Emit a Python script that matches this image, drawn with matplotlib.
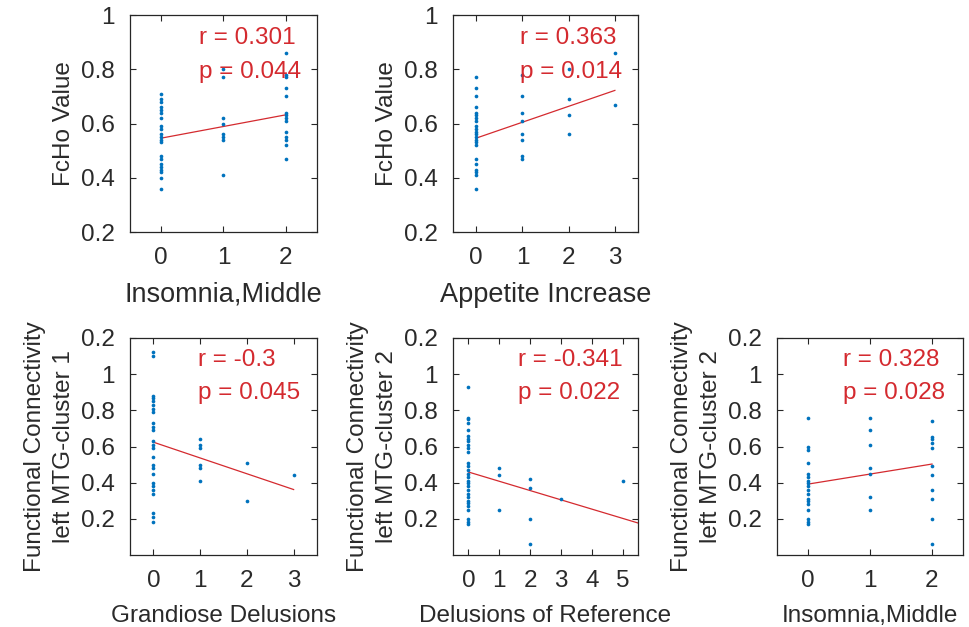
import matplotlib
matplotlib.use("Agg")
import matplotlib.pyplot as plt

plt.rcParams["font.family"] = ["Liberation Sans", "DejaVu Sans"]

# ----------------------------------------------------------
# Data
# ----------------------------------------------------------
# top-left: FcHo vs Insomnia,Middle
p1_x0 = [0.71, 0.69, 0.68, 0.66, 0.65, 0.64, 0.62, 0.59, 0.58, 0.56, 0.55,
         0.54, 0.53, 0.48, 0.47, 0.45, 0.44, 0.43, 0.42, 0.40, 0.36]
p1_x1 = [0.80, 0.77, 0.62, 0.60, 0.56, 0.55, 0.54, 0.41]
p1_x2 = [0.86, 0.78, 0.77, 0.73, 0.70, 0.64, 0.63, 0.62, 0.61, 0.57, 0.55,
         0.54, 0.52, 0.47]

# top-middle: FcHo vs Appetite Increase
p2_x0 = [0.77, 0.73, 0.70, 0.66, 0.64, 0.63, 0.62, 0.61, 0.59, 0.58, 0.57,
         0.56, 0.55, 0.54, 0.53, 0.52, 0.47, 0.45, 0.43, 0.42, 0.41, 0.36]
p2_x1 = [0.78, 0.70, 0.64, 0.61, 0.56, 0.54, 0.48, 0.47]
p2_x2 = [0.80, 0.69, 0.63, 0.56]
p2_x3 = [0.86, 0.67]

# bottom-left: cluster 1 vs Grandiose Delusions
p3_x0 = [1.12, 1.10, 0.88, 0.87, 0.85, 0.83, 0.81, 0.79, 0.73, 0.71, 0.69,
         0.63, 0.61, 0.59, 0.54, 0.50, 0.48, 0.45, 0.40, 0.38, 0.36, 0.34,
         0.23, 0.21, 0.18]
p3_x1 = [0.64, 0.61, 0.59, 0.50, 0.48, 0.41]
p3_x2 = [0.51, 0.30]
p3_x3 = [0.44]

# bottom-middle: cluster 2 vs Delusions of Reference
p4_x0 = [0.93, 0.76, 0.75, 0.73, 0.69, 0.66, 0.64, 0.63, 0.61, 0.59, 0.57,
         0.51, 0.49, 0.47, 0.45, 0.43, 0.41, 0.40, 0.38, 0.36, 0.34, 0.32,
         0.30, 0.29, 0.27, 0.25, 0.20, 0.18, 0.17]
p4_x1 = [0.48, 0.44, 0.25]
p4_x2 = [0.42, 0.37, 0.20, 0.06]
p4_x3 = [0.31]
p4_x5 = [0.41]

# bottom-right: cluster 2 vs Insomnia,Middle
p5_x0 = [0.76, 0.60, 0.58, 0.51, 0.45, 0.43, 0.41, 0.40, 0.38, 0.36, 0.34,
         0.31, 0.30, 0.28, 0.25, 0.20, 0.18, 0.17]
p5_x1 = [0.76, 0.69, 0.61, 0.48, 0.45, 0.32, 0.25]
p5_x2 = [0.74, 0.65, 0.64, 0.62, 0.59, 0.49, 0.44, 0.36, 0.31, 0.20, 0.06]

# least-squares line end points
fit1_x, fit1_y = [0, 2], [0.546, 0.632]
fit2_x, fit2_y = [0, 3], [0.546, 0.722]
fit3_x, fit3_y = [0, 3], [0.624, 0.362]
fit4_x, fit4_y = [0, 5.5], [0.459, 0.177]
fit5_x, fit5_y = [0, 2], [0.392, 0.503]

stats = [("r = 0.301", "p = 0.044"),
         ("r = 0.363", "p = 0.014"),
         ("r = -0.3", "p = 0.045"),
         ("r = -0.341", "p = 0.022"),
         ("r = 0.328", "p = 0.028")]

xlabels = ["Insomnia,Middle", "Appetite Increase", "Grandiose Delusions",
           "Delusions of Reference", "Insomnia,Middle"]
ylabels = ["FcHo Value", "FcHo Value",
           "Functional Connectivity\nleft MTG-cluster 1",
           "Functional Connectivity\nleft MTG-cluster 2",
           "Functional Connectivity\nleft MTG-cluster 2"]

top_yticks = [0.2, 0.4, 0.6, 0.8, 1.0]
top_yticklabels = ["0.2", "0.4", "0.6", "0.8", "1"]
bot_yticks = [0.2, 0.4, 0.6, 0.8, 1.0, 1.2]
bot_yticklabels = ["0.2", "0.4", "0.6", "0.8", "1", "0.2"]

DOT = "#0072BD"
RED = "#D42A2F"
FS = 17.5
TXT = "#2a2a2a"

W, H = 969, 627
fig = plt.figure(figsize=(W / 100, H / 100), dpi=100)


def make_ax(x0, x1, y0, y1):
    # pixel box -> figure fraction
    return fig.add_axes([x0 / W, 1 - y1 / H, (x1 - x0) / W, (y1 - y0) / H])


axes = [
    make_ax(130, 317, 15, 232),
    make_ax(453, 638, 15, 232),
    make_ax(130, 317, 338, 555),
    make_ax(453, 638, 338, 555),
    make_ax(777, 963, 338, 555),
]

columns = [
    [p1_x0, p1_x1, p1_x2],
    [p2_x0, p2_x1, p2_x2, p2_x3],
    [p3_x0, p3_x1, p3_x2, p3_x3],
    [p4_x0, p4_x1, p4_x2, p4_x3, [], p4_x5],
    [p5_x0, p5_x1, p5_x2],
]
fits = [(fit1_x, fit1_y), (fit2_x, fit2_y), (fit3_x, fit3_y),
        (fit4_x, fit4_y), (fit5_x, fit5_y)]
text_x = [0.6, 0.94, 0.96, 1.6, 0.56]

for i, ax in enumerate(axes):
    cols = columns[i]
    for xv, ys in enumerate(cols):
        if ys:
            ax.scatter([xv] * len(ys), ys, s=7, color=DOT, linewidths=0,
                       zorder=3)
    fx, fy = fits[i]
    ax.plot(fx, fy, color=RED, lw=0.9, zorder=2)

    ax.set_xlim(-0.5, len(cols) - 0.5)
    ax.set_xticks(range(len(cols)))
    if i < 2:
        ax.set_ylim(0.2, 1.0)
        ax.set_yticks(top_yticks)
        ax.set_yticklabels(top_yticklabels)
        ty = (0.915, 0.79)
        xfs = 19.5
    else:
        ax.set_ylim(0.0, 1.2)
        ax.set_yticks(bot_yticks)
        ax.set_yticklabels(bot_yticklabels)
        ty = (1.077, 0.895)
        xfs = FS

    r_txt, p_txt = stats[i]
    ax.text(text_x[i], ty[0], r_txt, color=RED, fontsize=FS,
            va="center", ha="left", zorder=4)
    ax.text(text_x[i], ty[1], p_txt, color=RED, fontsize=FS,
            va="center", ha="left", zorder=4)

    ax.set_xlabel(xlabels[i], fontsize=xfs, color=TXT, labelpad=9)
    ax.set_ylabel(ylabels[i], fontsize=FS, color=TXT, labelpad=4,
                  linespacing=1.4)

    ax.tick_params(direction="in", length=4, width=0.8, top=True,
                   right=True, labelsize=FS, colors="#262626",
                   labelcolor=TXT)
    ax.tick_params(axis="x", pad=11)
    ax.tick_params(axis="y", pad=11)
    for sp in ax.spines.values():
        sp.set_color("#262626")
        sp.set_linewidth(0.9)

fig.savefig("out.png", dpi=100)
